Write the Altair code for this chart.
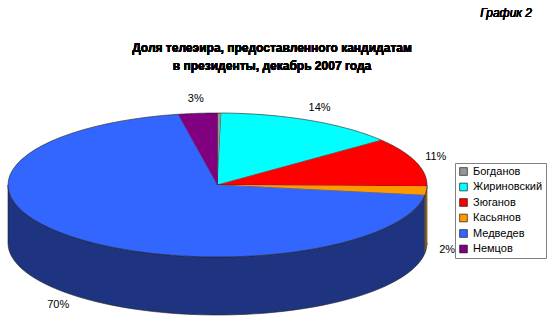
import altair as alt
import math

names = ["Богданов", "Жириновский", "Зюганов", "Касьянов", "Медведев", "Немцов"]
shares = [0.3, 14, 11, 2, 69.7, 3]
labels = ["", "14%", "11%", "2%", "70%", "3%"]
top_colors = ["#969696", "#00FFFF", "#FF0000", "#FF9900", "#3366FF", "#800080"]
side_colors = ["#4B4B4B", "#008080", "#800000", "#995C00", "#1F3480", "#400040"]
title_lines = ["Доля телеэира, предоставленного кандидатам", "в президенты, декабрь 2007 года"]
corner_text = "График 2"

N = 60
RY = 0.3437   # ellipse vertical radius (relative to horizontal radius 1)
D = 0.277     # depth of the pie side
PI = math.pi

records = [
    {"name": n, "share": s, "label": l, "ord": i, "steps": list(range(2 * N + 2))}
    for i, (n, s, l) in enumerate(zip(names, shares, labels))
]
data = alt.Data(values=records)

xs = alt.Scale(domain=[-1, 1], nice=False, zero=False)
ys = alt.Scale(domain=[-(RY + D), RY], nice=False, zero=False)

base = alt.Chart(data).transform_joinaggregate(
    total="sum(share)"
).transform_window(
    cum="sum(share)", sort=[alt.SortField("ord")], frame=[None, 0]
).transform_calculate(
    a0=f"(datum.cum - datum.share) / datum.total * 2 * {PI}",
    a1=f"datum.cum / datum.total * 2 * {PI}",
)

# side faces (front half only)
side = base.transform_calculate(
    b0=f"max(datum.a0, {PI}/2)",
    b1=f"min(datum.a1, 3*{PI}/2)",
).transform_filter(
    "datum.b1 > datum.b0"
).transform_flatten(["steps"], as_=["k"]).transform_calculate(
    j=f"datum.k <= {N} ? datum.k : {2 * N + 1} - datum.k",
).transform_calculate(
    t=f"datum.b0 + (datum.b1 - datum.b0) * datum.j / {N}",
).transform_calculate(
    px="sin(datum.t)",
    py=f"{RY} * cos(datum.t) - (datum.k > {N} ? {D} : 0)",
).mark_line(stroke="#202020", strokeWidth=0.6, strokeJoin="round").encode(
    x=alt.X("px:Q", scale=xs, axis=None),
    y=alt.Y("py:Q", scale=ys, axis=None),
    order=alt.Order("k:Q"),
    fill=alt.Fill("name:N", scale=alt.Scale(domain=names, range=side_colors), legend=None),
)

# top faces
top = base.transform_flatten(["steps"], as_=["k"]).transform_filter(
    f"datum.k <= {N + 1}"
).transform_calculate(
    t=f"datum.a0 + (datum.a1 - datum.a0) * min(datum.k, {N}) / {N}",
).transform_calculate(
    px=f"datum.k > {N} ? 0 : sin(datum.t)",
    py=f"datum.k > {N} ? 0 : {RY} * cos(datum.t)",
).mark_line(stroke="#202020", strokeWidth=0.6, strokeJoin="round").encode(
    x=alt.X("px:Q", scale=xs, axis=None),
    y=alt.Y("py:Q", scale=ys, axis=None),
    order=alt.Order("k:Q"),
    fill=alt.Fill(
        "name:N",
        scale=alt.Scale(domain=names, range=top_colors),
        title=None,
        legend=alt.Legend(
            orient="none", legendX=447, legendY=50,
            symbolType="square", symbolSize=60, symbolStrokeColor="#000000",
            symbolStrokeWidth=0.6, labelFont="Liberation Sans", labelFontSize=11,
            labelColor="#000000", rowPadding=3.5, padding=3,
            strokeColor="#808080", fillColor="#ffffff", labelLimit=200,
        ),
    ),
)

# percentage labels
text = base.transform_filter("datum.label != ''").transform_calculate(
    m="(datum.a0 + datum.a1) / 2",
).transform_calculate(
    px="1.1 * sin(datum.m)",
    py=f"1.2 * {RY} * cos(datum.m) - (cos(datum.m) < 0 ? {D} : 0)",
).mark_text(font="Liberation Sans", fontSize=11, color="#000000").encode(
    x=alt.X("px:Q", scale=xs, axis=None),
    y=alt.Y("py:Q", scale=ys, axis=None),
    text="label:N",
)

tkw = dict(font="Liberation Sans", fontSize=12, fontWeight="bold", color="#000000",
           align="center", baseline="middle")
title1 = alt.Chart(data).mark_text(**tkw).encode(
    x=alt.value(264), y=alt.value(-65), text=alt.value(title_lines[0])
)
title2 = alt.Chart(data).mark_text(**tkw).encode(
    x=alt.value(264), y=alt.value(-47), text=alt.value(title_lines[1])
)

corner = alt.Chart(data).mark_text(
    font="Liberation Sans", fontSize=12, fontStyle="italic", fontWeight="normal",
    color="#000000", align="right", baseline="middle"
).encode(
    x=alt.value(524), y=alt.value(-100), text=alt.value(corner_text)
)

chart = alt.layer(side, top, text, title1, title2, corner).resolve_scale(
    fill="independent"
).properties(
    width=419,
    height=202,
    padding={"left": 8, "top": 113, "right": 123, "bottom": 11},
    autosize=alt.AutoSizeParams(type="none"),
).configure_view(stroke=None)

chart.save("out.html", embed_options={"renderer": "svg", "actions": False})
